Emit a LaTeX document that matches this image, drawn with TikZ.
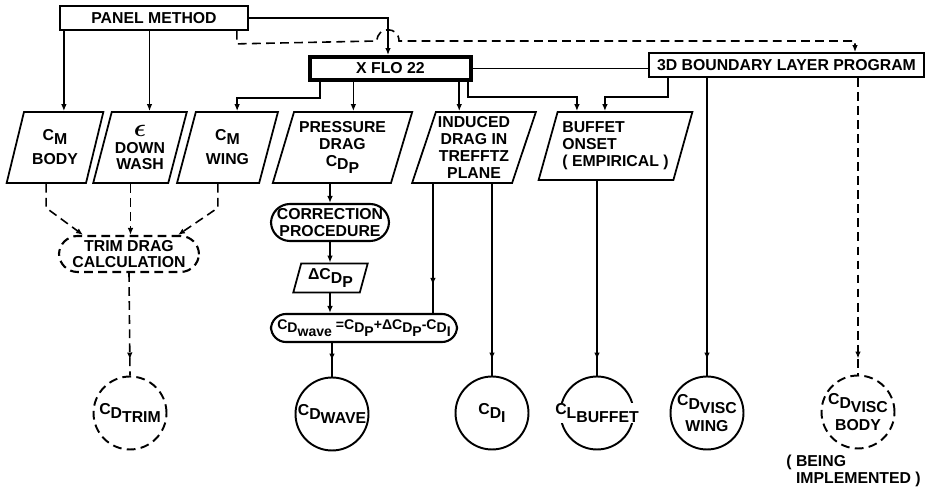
\documentclass[tikz,border=0pt]{standalone}
\usepackage{fontspec}
\setmainfont{Liberation Sans}
\usetikzlibrary{arrows.meta,positioning,shapes.geometric,calc,decorations.markings}
\newcommand{\dn}[1]{\raisebox{-0.45ex}{#1}}

\begin{document}
\begin{tikzpicture}[
  x=0.02cm,y=-0.02cm,
  font=\bfseries\fontsize{9}{9.6}\selectfont,
  prog/.style={draw,line width=1pt,inner sep=0pt,minimum height=0.48cm},
  para/.style={trapezium,trapezium left angle=70,trapezium right angle=110,
               trapezium stretches=true,draw,line width=1pt,inner sep=0pt,
               align=center,minimum height=1.42cm},
  proc/.style={draw,line width=1.2pt,inner sep=0pt,align=center},
  res/.style={circle,draw,line width=1.1pt,minimum size=1.46cm,inner sep=0pt},
  ln/.style={line width=0.9pt},
  arr/.style={ln,-{Latex[length=4pt,width=3.2pt]}},
  dsh/.style={ln,dash pattern=on 5pt off 3pt},
  midtip/.style={ln,postaction={decorate},decoration={markings,
              mark=at position -#1 with {\arrow{Latex[length=4pt,width=3.2pt]}}}},
  midtip/.default=0.32cm
]
\useasboundingbox (0,0) rectangle (937,489);

\node[prog,minimum width=3.76cm] (pm) at (154,18) {PANEL METHOD};
\node[prog,line width=2.2pt,minimum width=3.22cm,minimum height=0.46cm] (xflo) at (390.5,68.5) {X FLO 22};
\node[prog,minimum width=5.5cm] (bl) at (786.5,65) {3D BOUNDARY LAYER PROGRAM};

\node[para,minimum width=1.94cm] (body) at (55,147.5) {C\dn{M}\\[4pt]BODY};
\node[para,minimum width=1.88cm] (dw) at (140,147.5) {{\fontsize{14}{10}\selectfont\boldmath$\epsilon$}\\DOWN\\WASH};
\node[para,minimum width=2.02cm] (wing) at (227.5,147.5) {C\dn{M}\\[4pt]WING};
\node[para,minimum width=2.8cm] (pdrag) at (342.5,147.5) {PRESSURE\\DRAG\\C\dn{D\dn{P}}};
\node[para,minimum width=2.48cm] (idrag) at (474,147.5) {INDUCED\\DRAG IN\\TREFFTZ\\PLANE};
\node[para,minimum width=3.09cm,minimum height=1.36cm,align=left] (buf) at (615.5,146) {BUFFET\\ONSET\\( EMPIRICAL )};

\node[proc,rounded corners=0.38cm,minimum width=2.36cm,minimum height=0.74cm] (corr) at (330,222.5) {CORRECTION\\PROCEDURE};
\node[para,trapezium left angle=72,trapezium right angle=108,minimum width=1.49cm,minimum height=0.58cm] (dcdp) at (330.5,278) {ΔC\dn{D\dn{P}}};
\node[proc,rounded corners=0.3cm,minimum width=3.72cm,minimum height=0.56cm] (form) at (364,328)
  {\fontsize{8}{9}\selectfont C\dn{D\dn{wave}} =C\dn{D\dn{P}}+ΔC\dn{D\dn{P}}-C\dn{D\dn{I}}};
\node[proc,dash pattern=on 5pt off 3pt,rounded corners=0.37cm,minimum width=2.8cm,minimum height=0.72cm] (trim) at (129,254) {TRIM DRAG\\CALCULATION};

\node[res,dash pattern=on 5pt off 3pt,label={center:{C\dn{D\dn{TRIM}}}}] (ctrim) at (130,413) {};
\node[res,label={center:{C\dn{D\dn{WAVE}}}}] (cwave) at (332,414) {};
\node[res,label={center:{C\dn{D\dn{I}}}}] (ci) at (492,413) {};
\node[res,label={[fill=white,inner sep=0.5pt]center:{C\dn{L\dn{BUFFET}}}}] (cbuf) at (597,413) {};
\node[res,label={[align=center]center:{C\dn{D\dn{VISC}}\\[3pt]WING}}] (cvw) at (707,413) {};
\node[res,dash pattern=on 5pt off 3pt,label={[align=center]center:{C\dn{D\dn{VISC}}\\[3pt]BODY}}] (cvb) at (858,412) {};
\node[anchor=north west,align=left,inner sep=0pt] (note) at (786,455) {( BEING\\\phantom{( }IMPLEMENTED )};

\coordinate (iin) at ($(idrag.top left corner)+(24,0)$);
\coordinate (bin1) at ($(buf.top left corner)+(20,0)$);
\coordinate (bin2) at ($(buf.top left corner)+(48,0)$);
\coordinate (iout) at ($(idrag.bottom left corner)+(22,0)$);

\draw[arr] (pm.east) -| ($(xflo.north)+(-2.5,0)$);
\draw[dsh,arr] ($(pm.south east)+(-12,0)$) -- ++(0,13) -- (377,41)
  .. controls (377,26) and (399,26) .. (399,41) -| ($(bl.north)+(68.5,0)$);
\draw[ln] (xflo.east) -- (xflo.east -| bl.west);
\draw[arr] ($(xflo.south west)+(12,0)$) -- ++(0,16) -| (wing.top side);
\draw[arr] (xflo.south -| pdrag.top side) -- (pdrag.top side);
\draw[arr] (xflo.south -| iin) -- (iin);
\draw[arr] ($(xflo.south east)+(-5,0)$) -- ++(0,15) -| (bin1);
\draw[arr] ($(bl.south west)+(20,0)$) -- ++(0,19) -| (bin2);
\draw[midtip] (bl.south -| cvw.north) -- (cvw.north);
\draw[dsh,midtip] (bl.south -| cvb.north) -- (cvb.north);
\draw[arr] (pm.south -| body.top side) -- (body.top side);
\draw[arr] (pm.south -| dw.top side) -- (dw.top side);
\draw[dsh,arr] (body.bottom side) -- ++(0,24) -- ($(trim.north)+(-46,0)$);
\draw[dsh,arr] (dw.bottom side) -- (dw.bottom side |- trim.north);
\draw[dsh,arr] (wing.bottom side) -- ++(0,24) -- ($(trim.north)+(49,0)$);
\draw[dsh,midtip] (trim.south) -- (ctrim.north);
\draw[arr] (corr.north |- pdrag.bottom side) -- (corr.north);
\draw[arr] (corr.south) -- (corr.south |- dcdp.north);
\draw[arr] (corr.south |- dcdp.south) -- (corr.south |- form.north);
\draw[midtip] (form.south -| cwave.north) -- (cwave.north);
\draw[midtip=0.56cm] (iout) -- (iout |- form.north);
\draw[midtip] (ci.north |- idrag.south) -- (ci.north);
\draw[midtip] (cbuf.north |- buf.south) -- (cbuf.north);
\end{tikzpicture}
\end{document}
